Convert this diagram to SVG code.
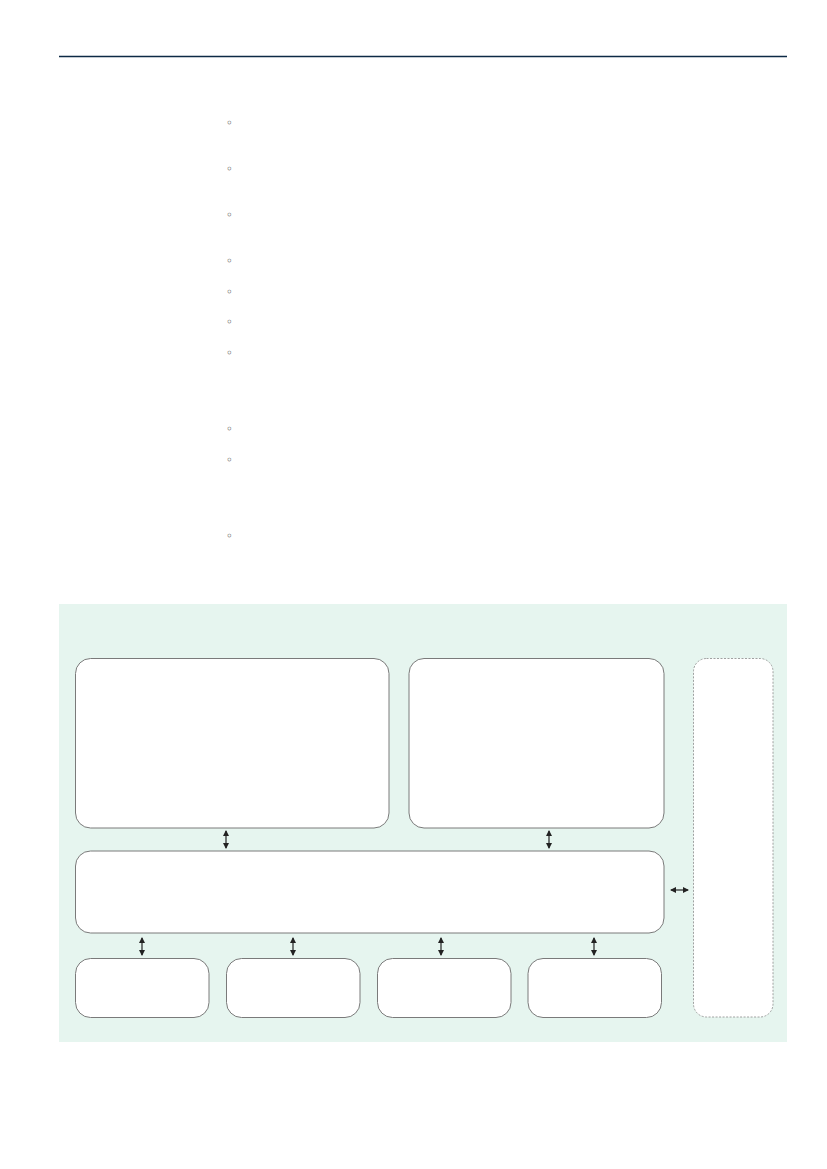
<svg xmlns="http://www.w3.org/2000/svg" width="827" height="1169" viewBox="0 0 827 1169">
<defs>
<marker id="ah" viewBox="0 0 6 6" refX="5" refY="3" markerWidth="6" markerHeight="6" orient="auto-start-reverse" markerUnits="userSpaceOnUse">
<path d="M0,0 L6,3 L0,6 Z" fill="#222"/>
</marker>
</defs>
<style>
.box{fill:#ffffff;stroke:#7a7a7a;stroke-width:1}
.dash{fill:#ffffff;stroke:#8a8a8a;stroke-width:0.8;stroke-dasharray:2,1.5}
.conn{stroke:#222;stroke-width:1.2;fill:none;marker-start:url(#ah);marker-end:url(#ah)}
.bul{font-family:"DejaVu Sans",sans-serif;font-size:12px;fill:#333;text-anchor:middle}
</style>
<rect width="827" height="1169" fill="#ffffff"/>
<line x1="59" y1="56.5" x2="787" y2="56.5" stroke="#0d2a45" stroke-width="1.3"/>
<g id="bullets">
<text class="bul" x="229.5" y="127">◦</text>
<text class="bul" x="229.5" y="173">◦</text>
<text class="bul" x="229.5" y="219">◦</text>
<text class="bul" x="229.5" y="265">◦</text>
<text class="bul" x="229.5" y="295.5">◦</text>
<text class="bul" x="229.5" y="326">◦</text>
<text class="bul" x="229.5" y="356.5">◦</text>
<text class="bul" x="229.5" y="433">◦</text>
<text class="bul" x="229.5" y="464">◦</text>
<text class="bul" x="229.5" y="540">◦</text>
</g>
<rect id="panel" x="59" y="604" width="728" height="438" fill="#e6f5ef"/>
<g id="node-top-left"><rect class="box" x="75.5" y="658.5" width="313.5" height="169.5" rx="15"/></g>
<g id="node-top-right"><rect class="box" x="409" y="658.5" width="255" height="169.5" rx="15"/></g>
<g id="node-side"><rect class="dash" x="693.5" y="658.5" width="79.5" height="358.5" rx="13"/></g>
<g id="node-middle"><rect class="box" x="75.5" y="851" width="588.5" height="82" rx="15"/></g>
<g id="node-b1"><rect class="box" x="75.5" y="958.5" width="133.5" height="59" rx="15"/></g>
<g id="node-b2"><rect class="box" x="226.5" y="958.5" width="133.5" height="59" rx="15"/></g>
<g id="node-b3"><rect class="box" x="377.5" y="958.5" width="133.5" height="59" rx="15"/></g>
<g id="node-b4"><rect class="box" x="528" y="958.5" width="133.5" height="59" rx="15"/></g>
<g id="connectors">
<line class="conn" x1="226" y1="831" x2="226" y2="848"/>
<line class="conn" x1="549" y1="831" x2="549" y2="848"/>
<line class="conn" x1="142" y1="938" x2="142" y2="955"/>
<line class="conn" x1="293" y1="938" x2="293" y2="955"/>
<line class="conn" x1="441" y1="938" x2="441" y2="955"/>
<line class="conn" x1="594" y1="938" x2="594" y2="955"/>
<line class="conn" x1="671" y1="890" x2="688" y2="890"/>
</g>
</svg>
